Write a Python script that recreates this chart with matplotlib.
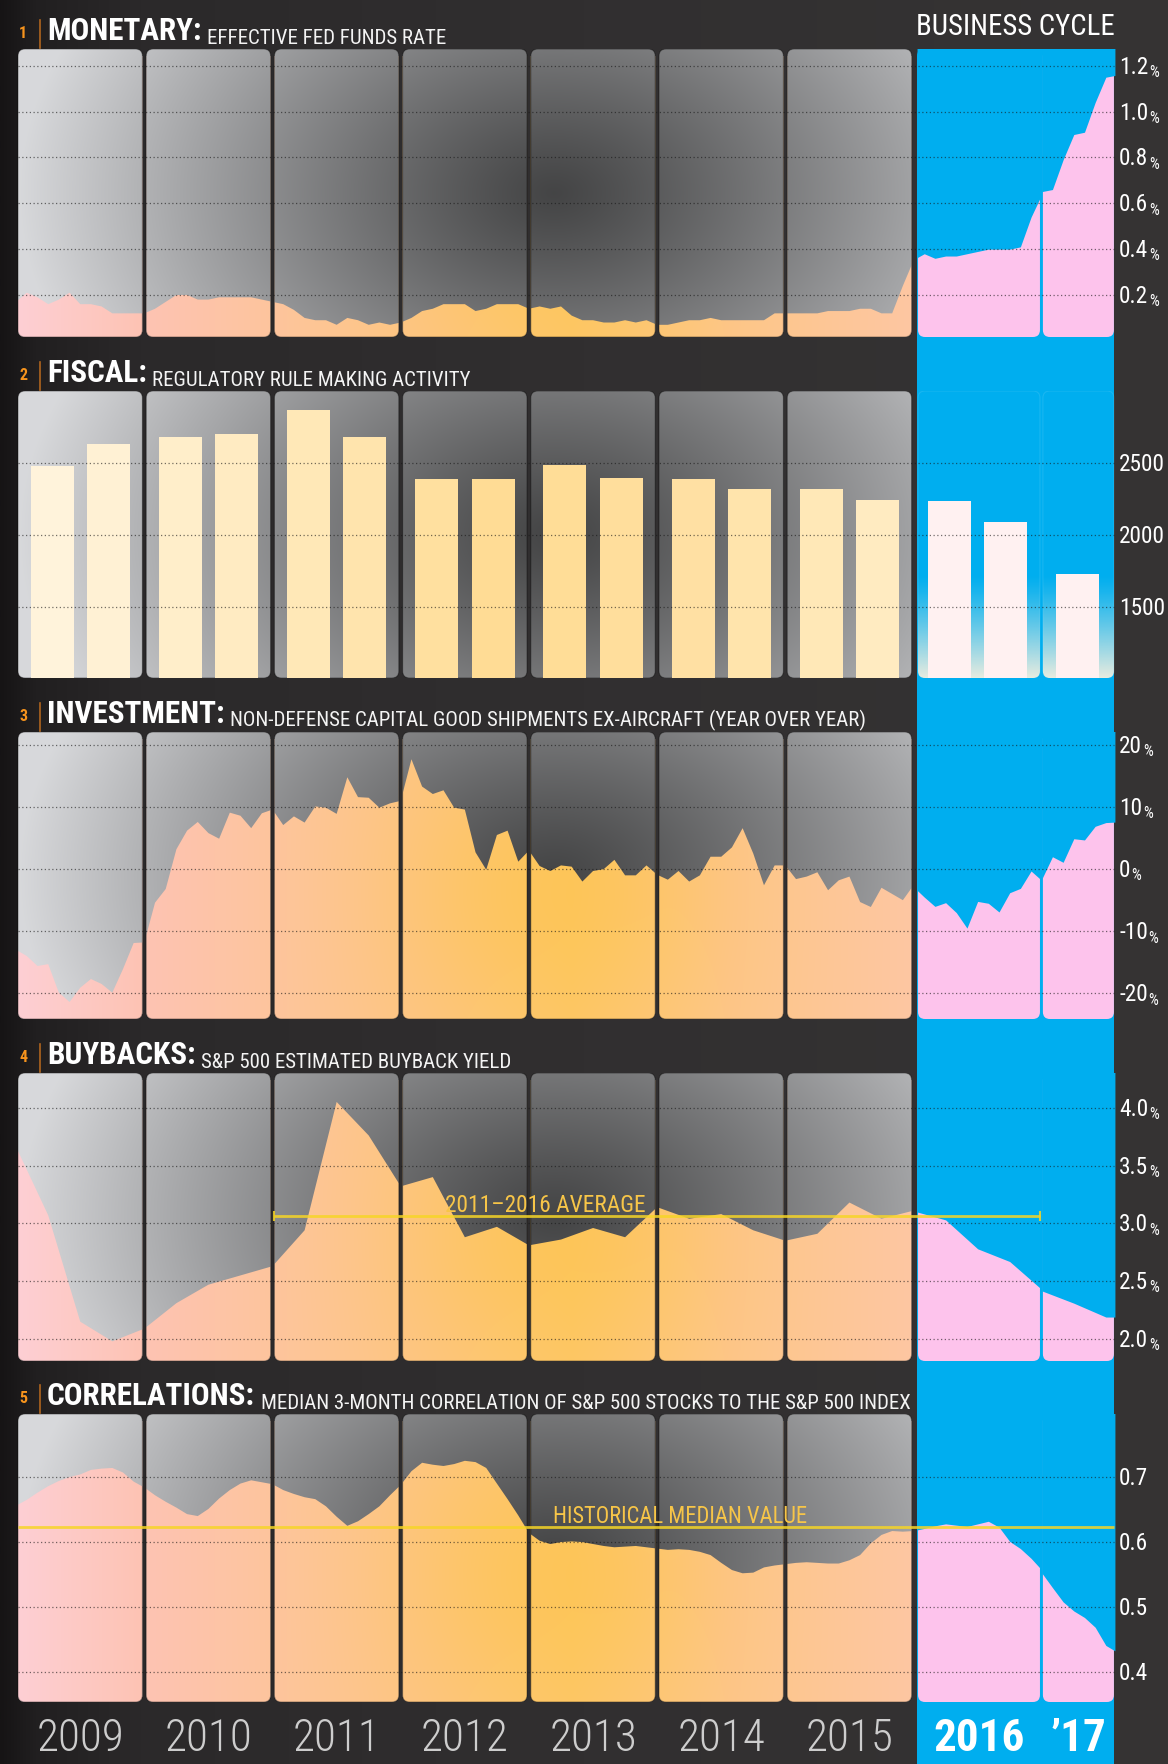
import numpy as np
import matplotlib
matplotlib.use("Agg")
import matplotlib.pyplot as plt
from matplotlib import font_manager as fm
from matplotlib.patches import FancyBboxPatch
from matplotlib.path import Path
from matplotlib.colors import to_rgb
from matplotlib.transforms import blended_transform_factory

# ============================ DATA ============================
year_labels = ["2009", "2010", "2011", "2012", "2013", "2014", "2015", "2016", "\u201917"]
panel_numbers = ["1", "2", "3", "4", "5"]
panel_titles = ["MONETARY:", "FISCAL:", "INVESTMENT:", "BUYBACKS:", "CORRELATIONS:"]
panel_subtitles = [
    "EFFECTIVE FED FUNDS RATE",
    "REGULATORY RULE MAKING ACTIVITY",
    "NON-DEFENSE CAPITAL GOOD SHIPMENTS EX-AIRCRAFT (YEAR OVER YEAR)",
    "S&P 500 ESTIMATED BUYBACK YIELD",
    "MEDIAN 3-MONTH CORRELATION OF S&P 500 STOCKS TO THE S&P 500 INDEX",
]

# 1. effective fed funds rate (%), monthly from Jan 2009
fed_funds_rate = [
    0.17, 0.21, 0.19, 0.16, 0.18, 0.21, 0.16, 0.16, 0.15, 0.12, 0.12, 0.12,   # 2009
    0.12, 0.14, 0.17, 0.20, 0.20, 0.18, 0.18, 0.19, 0.19, 0.19, 0.19, 0.18,   # 2010
    0.17, 0.16, 0.135, 0.10, 0.09, 0.09, 0.07, 0.10, 0.09, 0.07, 0.08, 0.07,  # 2011
    0.08, 0.10, 0.13, 0.14, 0.16, 0.16, 0.16, 0.13, 0.14, 0.16, 0.16, 0.16,   # 2012
    0.14, 0.15, 0.14, 0.15, 0.11, 0.09, 0.09, 0.08, 0.08, 0.09, 0.08, 0.09,   # 2013
    0.07, 0.07, 0.08, 0.09, 0.09, 0.10, 0.09, 0.09, 0.09, 0.09, 0.09, 0.12,   # 2014
    0.12, 0.12, 0.12, 0.12, 0.13, 0.13, 0.13, 0.14, 0.14, 0.12, 0.12, 0.24,   # 2015
    0.35, 0.38, 0.36, 0.37, 0.37, 0.38, 0.39, 0.40, 0.40, 0.40, 0.41, 0.54,   # 2016
    0.65, 0.66, 0.79, 0.90, 0.91, 1.04, 1.15, 1.16,                           # 2017
]
fed_ticks = [0.2, 0.4, 0.6, 0.8, 1.0, 1.2]
fed_tick_labels = ["0.2", "0.4", "0.6", "0.8", "1.0", "1.2"]

# 2. regulatory rule making activity, half-yearly from 2009 H1
rule_making = [2474, 2627, 2676, 2697, 2863, 2676, 2384, 2384,
               2481, 2391, 2384, 2315, 2315, 2238, 2231, 2085, 1724]
fiscal_ticks = [1500, 2000, 2500]
fiscal_tick_labels = ["1500", "2000", "2500"]

# 3. non-defense capital goods shipments ex-aircraft, YoY %, monthly from Jan 2009
capex_yoy = [
    -13.0, -14.0, -15.6, -15.3, -19.9, -21.4, -19.1, -17.7, -18.5, -19.9, -16.1, -11.9,  # 2009
    -11.8, -5.4, -3.2, 3.2, 6.2, 7.6, 5.8, 4.9, 9.1, 8.6, 6.6, 9.0,                      # 2010
    9.6, 7.1, 8.5, 7.5, 10.1, 9.9, 8.9, 14.8, 11.6, 11.5, 9.9, 10.6,                     # 2011
    11.0, 17.7, 13.3, 12.1, 12.7, 9.9, 9.6, 2.7, -0.1, 5.5, 6.2, 1.2,                    # 2012
    3.0, 0.5, -0.3, 0.6, 0.4, -2.0, -0.3, 0.0, 1.5, -1.0, -1.0, 0.6,                     # 2013
    -0.9, -1.7, -0.3, -2.0, -1.0, 2.0, 2.0, 3.5, 6.6, 2.5, -2.6, 0.6,                    # 2014
    0.6, -1.6, -1.2, -0.5, -3.4, -1.8, -1.2, -5.3, -6.1, -3.0, -4.0, -5.0,               # 2015
    -2.6, -4.5, -6.0, -5.4, -7.0, -9.5, -5.2, -5.5, -6.9, -3.8, -3.1, -0.3,              # 2016
    -2.0, 2.0, 1.1, 4.9, 4.7, 6.9, 7.5, 7.6,                                             # 2017
]
capex_ticks = [-20, -10, 0, 10, 20]
capex_tick_labels = ["-20", "-10", "0", "10", "20"]

# 4. S&P 500 estimated buyback yield (%), quarterly from 2009 Q1
buyback_yield = [
    3.66, 3.07, 2.15, 1.98,   # 2009
    2.09, 2.31, 2.47, 2.55,   # 2010
    2.63, 2.94, 4.05, 3.76,   # 2011
    3.32, 3.40, 2.88, 2.97,   # 2012
    2.81, 2.86, 2.96, 2.88,   # 2013
    3.14, 3.04, 3.08, 2.94,   # 2014
    2.85, 2.91, 3.18, 3.04,   # 2015
    3.11, 3.03, 2.78, 2.67,   # 2016
    2.42, 2.31, 2.19,         # 2017
]
buyback_avg = 3.06
buyback_ticks = [2.0, 2.5, 3.0, 3.5, 4.0]
buyback_tick_labels = ["2.0", "2.5", "3.0", "3.5", "4.0"]

# 5. median 3-month correlation of S&P 500 stocks to the index, monthly from Jan 2009
correlation = [
    0.656, 0.665, 0.676, 0.686, 0.694, 0.700, 0.704, 0.711, 0.713, 0.714, 0.707, 0.693,  # 2009
    0.684, 0.672, 0.662, 0.653, 0.643, 0.640, 0.651, 0.667, 0.680, 0.690, 0.695, 0.692,  # 2010
    0.689, 0.680, 0.674, 0.669, 0.666, 0.655, 0.639, 0.625, 0.632, 0.643, 0.655, 0.672,  # 2011
    0.688, 0.709, 0.722, 0.719, 0.717, 0.720, 0.725, 0.723, 0.714, 0.690, 0.666, 0.641,  # 2012
    0.614, 0.602, 0.597, 0.600, 0.601, 0.600, 0.597, 0.594, 0.592, 0.593, 0.594, 0.592,  # 2013
    0.590, 0.588, 0.589, 0.588, 0.585, 0.580, 0.568, 0.557, 0.552, 0.553, 0.561, 0.564,  # 2014
    0.566, 0.568, 0.569, 0.568, 0.567, 0.567, 0.572, 0.580, 0.598, 0.611, 0.617, 0.616,  # 2015
    0.617, 0.621, 0.625, 0.628, 0.626, 0.624, 0.628, 0.632, 0.623, 0.601, 0.590, 0.575,  # 2016
    0.555, 0.530, 0.508, 0.494, 0.484, 0.469, 0.441, 0.430,                              # 2017
]
corr_hist_median = 0.623
corr_ticks = [0.4, 0.5, 0.6, 0.7]
corr_tick_labels = ["0.4", "0.5", "0.6", "0.7"]

# ============================ LAYOUT / STYLE ============================
W, H, DPI = 1168, 1764, 100
PXY = 128.2                       # pixels per year
X0 = 16.15                        # pixel of 2009.0
XMIN = 2009 - X0 / PXY
XMAX = XMIN + W / PXY
SPANS = [(yr + 0.0144, yr + 0.985) for yr in range(2009, 2016)] + \
        [(2016.035, 2016.986), (2017.009, 2017.563)]
R_PX = 7
PANELS = [(49, 337), (391, 678), (732, 1019), (1073, 1361), (1414, 1702)]
YLIMS = [(0.0168, 1.273), (1005, 2998), (-24.14, 22.09), (1.81, 4.30), (0.354, 0.797)]
BAR_OFFSETS = (0.28, 0.72)
BAR_W = 0.335

BLUE = "#00aeef"
PINK = "#fdc3ec"
BG = "#2e2c2d"
ORANGE = "#f7941d"
YEL = "#f6d526"
LABEL_YEL = "#f7c548"


def has_font(name):
    try:
        fm.findfont(fm.FontProperties(family=name), fallback_to_default=False)
        return True
    except Exception:
        return False


COND = [f for f in ["Roboto Condensed", "Liberation Sans Narrow", "DejaVu Sans Condensed"] if has_font(f)]
NARROW = COND + ["Roboto", "DejaVu Sans"]
S = 1.12 if COND else 1.0         # condensed faces may be set a little larger


def interp_colors(t, stops, cols):
    rgb = np.array([to_rgb(c) for c in cols])
    return np.stack([np.interp(t, stops, rgb[:, k]) for k in range(3)], axis=-1)


def gray_image(ny=160, nx=420):
    u = np.linspace(0, 1, nx)[None, :]
    v = np.linspace(0, 1, ny)[:, None]
    r = np.clip(np.hypot((u - 0.6) / 0.6, (v - 0.5) / 1.3), 0, 1)
    L = 0.27 + 0.58 * r ** 1.15
    return np.clip(np.dstack([L * 0.995, L, L * 1.012]), 0, 1)


def warm_image(ny=160, nx=420):
    u = np.linspace(0, 1, nx)
    v = np.linspace(0, 1, ny)[:, None, None]
    base = interp_colors(u, [0, 0.14, 0.3, 0.48, 0.62, 0.8, 1.0],
                         ["#fecfd4", "#fdc3b3", "#fdc59b", "#fdc67f", "#fec76a", "#fdc68a", "#fdc7a2"])[None, :, :]
    w = 0.55 * np.exp(-((u[None, :, None] - 0.6) / 0.16) ** 2 - ((v - 0.45) / 0.45) ** 2)
    yel = np.array(to_rgb("#fec54a"))
    return np.clip(base * (1 - w) + yel * w, 0, 1)


GRAY = gray_image()
WARM = warm_image()


def segment(xv, yv, a, b):
    xv = np.asarray(xv, float)
    yv = np.asarray(yv, float)
    inside = (xv > a) & (xv < b)
    xs = np.concatenate(([a], xv[inside], [b]))
    return xs, np.interp(xs, xv, yv)


fig = plt.figure(figsize=(W / DPI, H / DPI), dpi=DPI)
fig.patch.set_facecolor(BG)
bg = fig.add_axes([0, 0, 1, 1], zorder=-10)
bg.axis("off")

# background
gx = np.linspace(0, 1, 600)
bg_img = interp_colors(gx, [0.0, 0.03, 0.12, 0.5, 1.0],
                       ["#161415", "#211f20", "#2b292a", "#312f30", "#363434"])[None, :, :]
bg.imshow(bg_img, extent=(0, W, H, 0), aspect="auto", interpolation="bilinear", zorder=0)
bg.add_patch(FancyBboxPatch((917, 49), 197, H + 60, boxstyle="round,pad=0,rounding_size=7",
                            fc=BLUE, ec="none", zorder=1))


def make_panel(i):
    top, bot = PANELS[i]
    ax = fig.add_axes([0, 1 - bot / H, 1, (bot - top) / H], zorder=i + 1)
    ax.axis("off")
    return ax


def box_patch(ax, span, i, **kw):
    a, b = span
    ybot, ytop = YLIMS[i]
    h = PANELS[i][1] - PANELS[i][0]
    rx = R_PX / PXY
    ry = R_PX * (ytop - ybot) / h
    p = FancyBboxPatch((a, ybot), b - a, ytop - ybot,
                       boxstyle=f"round,pad=0,rounding_size={rx}",
                       mutation_aspect=ry / rx, **kw)
    ax.add_patch(p)
    return p


def gray_layer(ax, i, patches, zorder):
    ybot, ytop = YLIMS[i]
    ext = (SPANS[0][0], SPANS[6][1], ybot, ytop)
    im = ax.imshow(GRAY, extent=ext, origin="lower", aspect="auto",
                   interpolation="bilinear", zorder=zorder)
    im.set_clip_path(Path.make_compound_path(*[p.get_path() for p in patches]), ax.transData)
    return im


def finish(ax, i, ticks, labels, pct):
    ybot, ytop = YLIMS[i]
    ax.hlines(ticks, SPANS[0][0], SPANS[-1][1], colors="#161616", alpha=0.6, lw=0.9,
              linestyles=(0, (1, 2)), zorder=6)
    trans = blended_transform_factory(bg.transData, ax.transData)
    for v, lab in zip(ticks, labels):
        t = ax.annotate(lab, xy=(1119, v), xycoords=trans, xytext=(0, -5.8),
                        textcoords="offset points", ha="left", va="baseline",
                        color="white", fontsize=15 * S, family=NARROW,
                        annotation_clip=False, clip_on=False)
        if pct:
            ax.annotate("%", xy=(1, 0), xycoords=t, xytext=(0.6, -0.9),
                        textcoords="offset points", ha="left", va="bottom",
                        color="white", fontsize=10 * S, family=NARROW,
                        annotation_clip=False, clip_on=False)
    ax.set_xlim(XMIN, XMAX)
    ax.set_ylim(ybot, ytop)


def line_panel(i, xv, yv, ticks, labels, pct):
    ax = make_panel(i)
    ybot, ytop = YLIMS[i]
    h = PANELS[i][1] - PANELS[i][0]
    ry = R_PX * (ytop - ybot) / h
    boxes = [box_patch(ax, s, i, fc="none", ec=(0, 0, 0, 0.35), lw=0.8, zorder=4) for s in SPANS[:7]]
    gray_layer(ax, i, boxes, 1)
    im = ax.imshow(WARM, extent=(SPANS[0][0], SPANS[6][1], ybot, ytop - ry), origin="lower",
                   aspect="auto", interpolation="bilinear", zorder=2)
    im.set_clip_path(Path.make_compound_path(*[p.get_path() for p in boxes]), ax.transData)
    above = []
    for s in SPANS[:7]:
        xs, ys = segment(xv, yv, *s)
        fb = ax.fill_between(xs, ys, ytop - ry)
        above.append(fb.get_paths()[0])
        fb.remove()
    im = ax.imshow(GRAY, extent=(SPANS[0][0], SPANS[6][1], ybot, ytop), origin="lower",
                   aspect="auto", interpolation="bilinear", zorder=3)
    im.set_clip_path(Path.make_compound_path(*above), ax.transData)
    eps = 1.0 / PXY
    for s in SPANS[7:]:
        box_patch(ax, s, i, fc=PINK, ec="none", zorder=2)
        xs, ys = segment(xv, yv, *s)
        xs2 = xs.copy()
        xs2[0] -= eps
        xs2[-1] += eps
        ax.fill_between(xs2, ys, ytop + (ytop - ybot), color=BLUE, lw=0, zorder=3)
    finish(ax, i, ticks, labels, pct)
    return ax


def bar_panel(i, values, ticks, labels):
    ax = make_panel(i)
    ybot, ytop = YLIMS[i]
    boxes = [box_patch(ax, s, i, fc="none", ec=(0, 0, 0, 0.35), lw=0.8, zorder=4) for s in SPANS[:7]]
    gray_layer(ax, i, boxes, 1)
    blue_boxes = [box_patch(ax, s, i, fc="none", ec=(1, 1, 1, 0.10), lw=0.8, zorder=4) for s in SPANS[7:]]
    v = np.linspace(0, 1, 200)
    fade = np.zeros((200, 1, 4))
    fade[:, 0, :3] = to_rgb("#f4efdf")
    fade[:, 0, 3] = np.clip((0.36 - v) / 0.36, 0, 1) ** 1.2 * 0.95
    im = ax.imshow(fade, extent=(SPANS[7][0], SPANS[8][1], ybot, ytop), origin="lower",
                   aspect="auto", interpolation="bilinear", zorder=2)
    im.set_clip_path(Path.make_compound_path(*[p.get_path() for p in blue_boxes]), ax.transData)
    pos, cols = [], []
    span_lo, span_hi = SPANS[0][0], SPANS[6][1]
    for k in range(len(values)):
        yr = 2009 + k // 2
        x = yr + BAR_OFFSETS[k % 2]
        pos.append(x)
        if yr <= 2015:
            u = (x - span_lo) / (span_hi - span_lo)
            cols.append(interp_colors(u, [0, 0.3, 0.55, 0.75, 1.0],
                                      ["#fff5e0", "#ffe9bb", "#ffdb92", "#ffe0a2", "#ffedc6"]))
        else:
            cols.append("#fff1f1")
    ax.bar(pos, values, width=BAR_W, color=cols, lw=0, zorder=4)
    finish(ax, i, ticks, labels, False)
    return ax


months = lambda n: 2009 + np.arange(n) / 12.0
ax1 = line_panel(0, months(len(fed_funds_rate)), fed_funds_rate, fed_ticks, fed_tick_labels, True)
ax2 = bar_panel(1, rule_making, fiscal_ticks, fiscal_tick_labels)
ax3 = line_panel(2, months(len(capex_yoy)), capex_yoy, capex_ticks, capex_tick_labels, True)
ax4 = line_panel(3, 2009 + np.arange(len(buyback_yield)) / 4.0, buyback_yield,
                 buyback_ticks, buyback_tick_labels, True)
ax5 = line_panel(4, months(len(correlation)), correlation, corr_ticks, corr_tick_labels, False)

# reference lines
avg_x0, avg_x1 = SPANS[2][0], SPANS[7][1]
ax4.hlines(buyback_avg, avg_x0, avg_x1, colors=YEL, lw=2, alpha=0.85, zorder=7)
ax4.plot([avg_x0, avg_x1], [buyback_avg, buyback_avg], ls="none", marker="|", ms=7, mew=1.5,
         color=YEL, alpha=0.85, zorder=7)
ax4.text(2013.13, 3.10, "2011\u20132016 AVERAGE", ha="center", va="baseline",
         color=LABEL_YEL, fontsize=15 * S, family=NARROW, zorder=8)
ax4.set_xlim(XMIN, XMAX)
ax4.set_ylim(*YLIMS[3])

ax5.hlines(corr_hist_median, SPANS[0][0], SPANS[-1][1], colors=YEL, lw=2, alpha=0.85, zorder=7)
ax5.text(2014.18, 0.629, "HISTORICAL MEDIAN VALUE", ha="center", va="baseline",
         color=LABEL_YEL, fontsize=14.5 * S, family=NARROW, zorder=8)
ax5.set_xlim(XMIN, XMAX)
ax5.set_ylim(*YLIMS[4])

# titles
for k in range(5):
    top = PANELS[k][0]
    bg.text(19, top - 11, panel_numbers[k], color=ORANGE, fontsize=11.5, fontweight="bold",
            family=NARROW, va="baseline", ha="left", zorder=5)
    bg.plot([39.5, 39.5], [top - 29, top - 1], color="#b0651e", lw=1.2, zorder=5)
    t = bg.text(47, top - 9, panel_titles[k], color="white", fontsize=20 * S, fontweight="bold",
                family=NARROW, va="baseline", ha="left", zorder=5)
    bg.annotate(panel_subtitles[k], xy=(1, 0), xycoords=t, xytext=(4, -1.5),
                textcoords="offset points", va="bottom", ha="left", color="#f4f4f4",
                fontsize=15 if COND else 13, family=NARROW, zorder=5)

bg.text(1015.5, 35, "BUSINESS CYCLE", ha="center", va="baseline", color="white",
        fontsize=18.5 * S, family=NARROW, zorder=5)

# year labels
ytrans = blended_transform_factory(ax5.transData, bg.transData)
for k, lab in enumerate(year_labels):
    a, b = SPANS[k]
    cycle = k >= 7
    ax5.text((a + b) / 2, 1751, lab, transform=ytrans, ha="center", va="baseline",
             color="white" if cycle else "#cdcdcd", fontsize=29 * S,
             fontweight="bold" if cycle else "light", family=NARROW, clip_on=False)

bg.set_xlim(0, W)
bg.set_ylim(H, 0)

fig.savefig("out.png", dpi=DPI, facecolor=fig.get_facecolor())
